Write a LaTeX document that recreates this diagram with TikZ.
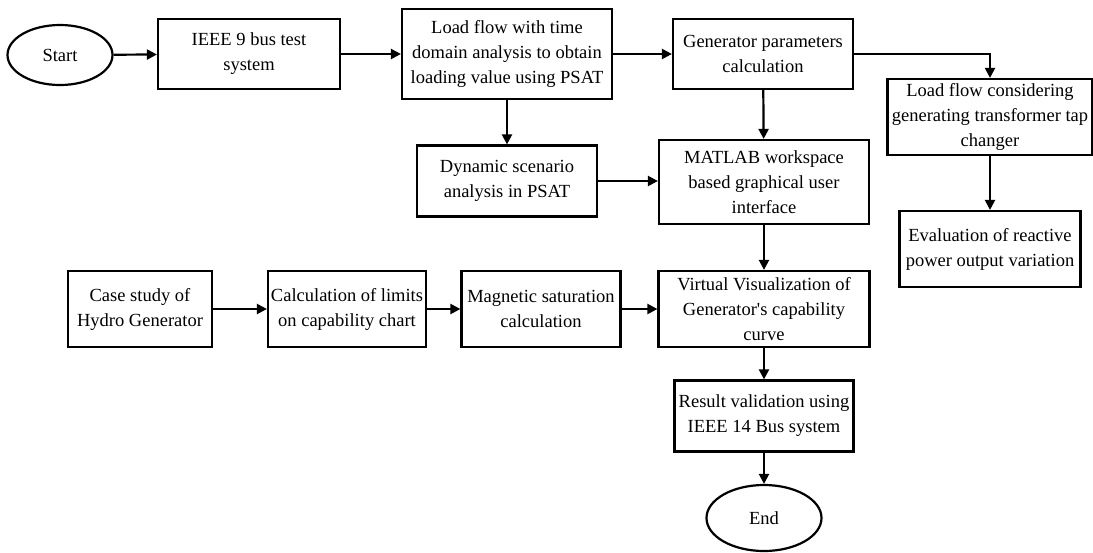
\documentclass[tikz,border=0pt]{standalone}
\usepackage{fontspec}
\setmainfont{Liberation Serif}
\usetikzlibrary{shapes.geometric,arrows.meta}

\tikzset{every picture/.style={line width=2.2pt}}
\tikzset{
  procbox/.style={draw, rectangle, align=center, inner sep=0pt, font=\fontsize{18.5}{25}\selectfont},
  termbox/.style={draw, ellipse, inner sep=0pt, font=\fontsize{18.5}{25}\selectfont},
  flow/.style={-{Triangle[length=10pt,width=10pt]}}
}

\begin{document}
\begin{tikzpicture}[x=1pt,y=1pt,yscale=-1,xscale=1]
            \useasboundingbox (0,0) rectangle (1093,552);

            %Shape: Ellipse [start]
            \node [termbox, minimum width=105, minimum height=60] (start) at (60,55) {Start};
            %Shape: Rectangle [top row]
            \node [procbox, minimum width=182, minimum height=70] (ieee) at (249,54) {IEEE 9 bus test\\system};
            \node [procbox, minimum width=210, minimum height=90] (loadflow) at (507,54) {Load flow with time\\domain analysis to obtain\\loading value using PSAT};
            \node [procbox, minimum width=180, minimum height=70] (genpar) at (763,54) {Generator parameters\\calculation};
            \node [procbox, minimum width=205, minimum height=76] (tapload) at (990,117) {Load flow considering\\generating transformer tap\\changer};
            \node [procbox, minimum width=181, minimum height=76] (reactive) at (990,249) {Evaluation of reactive\\power output variation};
            %Shape: Rectangle [middle]
            \node [procbox, minimum width=180, minimum height=71] (dynamic) at (507,181) {Dynamic scenario\\analysis in PSAT};
            \node [procbox, minimum width=210, minimum height=84] (matlab) at (764,182) {MATLAB workspace\\based graphical user\\interface};
            %Shape: Rectangle [bottom row]
            \node [procbox, minimum width=144, minimum height=76] (hydro) at (140,309) {Case study of\\Hydro Generator};
            \node [procbox, minimum width=158, minimum height=76] (limits) at (347,309) {Calculation of limits\\on capability chart};
            \node [procbox, minimum width=159, minimum height=76] (saturation) at (541,309) {Magnetic saturation\\calculation};
            \node [procbox, minimum width=211, minimum height=76] (virtual) at (764,309) {Virtual Visualization of\\Generator\textquotesingle s capability\\curve};
            \node [procbox, minimum width=179, minimum height=71] (validation) at (764,416) {Result validation using\\IEEE 14 Bus system};
            %Shape: Ellipse [end]
            \node [termbox, minimum width=115, minimum height=66] (finish) at (764,518) {End};

            %Straight Lines
            \draw [flow] (start) -- (ieee);
            \draw [flow] (ieee) -- (loadflow);
            \draw [flow] (loadflow) -- (genpar);
            \draw [flow] (genpar.east) -| (tapload.north);
            \draw [flow] (tapload) -- (reactive);
            \draw [flow] (loadflow) -- (dynamic);
            \draw [flow] (genpar) -- (matlab);
            \draw [flow] (dynamic) -- (dynamic -| matlab.west);
            \draw [flow] (matlab) -- (virtual);
            \draw [flow] (hydro) -- (limits);
            \draw [flow] (limits) -- (saturation);
            \draw [flow] (saturation) -- (virtual);
            \draw [flow] (virtual) -- (validation);
            \draw [flow] (validation) -- (finish);

        \end{tikzpicture}
\end{document}
